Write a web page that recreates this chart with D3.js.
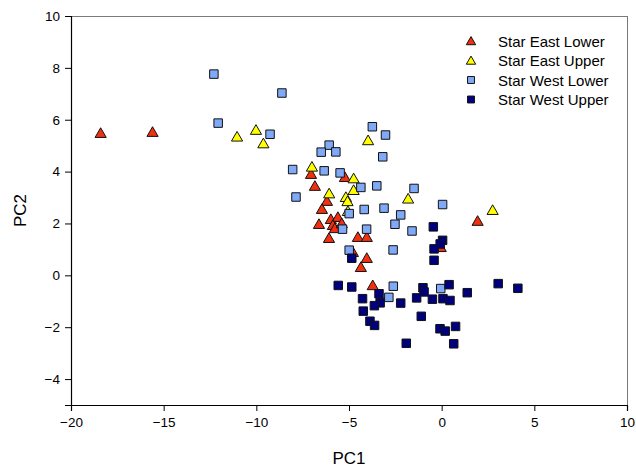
<!DOCTYPE html>
<html>
<head>
<meta charset="utf-8">
<script src="https://cdn.jsdelivr.net/npm/d3@7/dist/d3.min.js"></script>
<style>
  html, body { margin: 0; padding: 0; background: #fff; }
  svg { display: block; font-family: "Liberation Sans", Arial, sans-serif; }
</style>
</head>
<body>
<svg id="chart" width="636" height="469"></svg>
<script>
// PCA scores, [PC1, PC2] per sample
const starEastLower = [
  [-18.4, 5.48], [-15.6, 5.52], [-7.05, 3.90], [-5.22, 3.78], [-6.84, 3.44],
  [-6.19, 2.86], [-6.46, 2.55], [-6.62, 1.97], [-5.98, 2.16], [-5.60, 2.24],
  [-5.87, 1.93], [-5.76, 1.81], [-5.39, 2.00], [-6.08, 1.43], [-4.52, 1.47],
  [-4.04, 1.47], [-4.79, 0.89], [-4.04, 0.66], [-4.36, 0.31], [-3.72, -0.39],
  [1.94, 2.09], [-0.05, 1.08]
];
const starEastUpper = [
  [-11.04, 5.34], [-10.02, 5.60], [-9.62, 5.08], [-3.97, 5.20], [-7.00, 4.18],
  [-4.75, 3.73], [-6.07, 3.15], [-4.75, 3.28], [-5.17, 3.01], [-5.08, 2.85],
  [-5.06, 2.47], [-1.81, 2.95], [2.75, 2.51]
];
const starWestLower = [
  [-12.29, 7.76], [-12.06, 5.87], [-8.62, 7.03], [-9.26, 5.44], [-3.74, 5.73],
  [-3.03, 5.41], [-6.07, 5.02], [-6.50, 4.75], [-5.71, 4.76], [-3.18, 4.57],
  [-8.04, 4.08], [-6.34, 4.03], [-5.48, 3.95], [-4.36, 3.39], [-3.50, 3.45],
  [-1.49, 3.35], [0.05, 2.73], [-7.86, 3.02], [-4.18, 2.54], [-3.11, 2.59],
  [-4.99, 2.38], [-2.21, 2.33], [-2.52, 1.97], [-1.60, 1.71], [-4.05, 1.78],
  [-5.35, 1.78], [-2.62, 0.98], [-4.99, 0.97], [-2.61, -0.42], [-2.85, -0.85],
  [-0.05, -0.51]
];
const starWestUpper = [
  [-0.45, 1.87], [0.05, 1.35], [-0.08, 1.21], [-0.41, 1.02], [-0.41, 0.58],
  [-4.85, 0.66], [-5.58, -0.39], [-4.85, -0.45], [-3.38, -0.71], [-4.27, -0.90],
  [-3.32, -1.06], [-3.63, -1.17], [-2.21, -1.07], [-4.23, -1.38], [-3.87, -1.77],
  [-3.62, -1.93], [-1.01, -0.48], [-0.95, -0.64], [-1.35, -0.87], [-0.50, -0.92],
  [0.40, -0.36], [0.07, -0.90], [0.45, -0.97], [1.38, -0.67], [3.05, -0.32],
  [4.11, -0.50], [-1.10, -1.58], [-0.09, -2.06], [0.19, -2.15], [0.75, -1.97],
  [-1.91, -2.62], [0.65, -2.64]
];

const seriesNames = ["Star East Lower", "Star East Upper", "Star West Lower", "Star West Upper"];
const seriesData = [starEastLower, starEastUpper, starWestLower, starWestUpper];
const seriesShapes = ["triangle", "triangle", "square", "square"];
const seriesColors = ["#f0300e", "#ffff00", "#80aaf8", "#00007f"];

const xTicks = [-20, -15, -10, -5, 0, 5, 10];
const yTicks = [-4, -2, 0, 2, 4, 6, 8, 10];

const svg = d3.select("#chart");
const m = { left: 71, right: 627, top: 16, bottom: 405 };

const x = d3.scaleLinear().domain([-20, 10]).range([m.left, m.right]);
const y = d3.scaleLinear().domain([-5, 10]).range([m.bottom, m.top]);

// frame: grey top/right edges
svg.append("line").attr("x1", m.left).attr("x2", m.right).attr("y1", m.top + 0.5).attr("y2", m.top + 0.5)
  .attr("stroke", "#7a7a7a").attr("stroke-width", 1);
svg.append("line").attr("x1", m.right + 0.5).attr("x2", m.right + 0.5).attr("y1", m.top).attr("y2", m.bottom)
  .attr("stroke", "#7a7a7a").attr("stroke-width", 1);

// axes
const xAxis = d3.axisBottom(x).tickValues(xTicks).tickSize(6).tickPadding(6).tickFormat(d3.format("d"));
const yAxis = d3.axisLeft(y).tickValues(yTicks.concat([-5])).tickSize(6).tickPadding(5)
  .tickFormat(d => d === -5 ? "" : d3.format("d")(d));

const gx = svg.append("g").attr("transform", `translate(0,${m.bottom})`).call(xAxis);
const gy = svg.append("g").attr("transform", `translate(${m.left},0)`).call(yAxis);
[gx, gy].forEach(g => {
  g.select(".domain").attr("stroke", "#000").attr("stroke-width", 1.2);
  g.selectAll(".tick line").attr("stroke", "#000");
  g.selectAll(".tick text").attr("fill", "#000").style("font-size", "13.5px")
    .style("font-family", "'Liberation Sans', Arial, sans-serif");
});

// axis titles
svg.append("text").attr("x", (m.left + m.right) / 2).attr("y", 464).attr("text-anchor", "middle")
  .style("font-size", "17px").attr("fill", "#000").text("PC1");
svg.append("text").attr("transform", `translate(26,${(m.top + m.bottom) / 2}) rotate(-90)`)
  .attr("text-anchor", "middle").style("font-size", "17px").attr("fill", "#000").text("PC2");

const triSym = (s) => d3.symbol().type(d3.symbolTriangle).size(s)();
const sqSym = (s) => d3.symbol().type(d3.symbolSquare).size(s)();
const shapePath = (shape, size) => shape === "triangle" ? triSym(size) : sqSym(size);

// points
const plot = svg.append("g");
seriesData.forEach((data, i) => {
  plot.append("g").selectAll("path")
    .data(data)
    .join("path")
    .attr("d", shapePath(seriesShapes[i], seriesShapes[i] === "triangle" ? 54 : 72))
    .attr("transform", d => `translate(${x(d[0])},${y(d[1]) + (seriesShapes[i] === "triangle" ? 1 : 0)})`)
    .attr("fill", seriesColors[i])
    .attr("stroke", "#111")
    .attr("stroke-width", 1);
});

// legend
const legend = svg.append("g").attr("transform", "translate(471,41)");
seriesNames.forEach((name, i) => {
  const row = legend.append("g").attr("transform", `translate(0,${i * 19.5})`);
  row.append("path")
    .attr("d", shapePath(seriesShapes[i], seriesShapes[i] === "triangle" ? 38 : 48))
    .attr("transform", `translate(0,${seriesShapes[i] === "triangle" ? 1 : 0})`)
    .attr("fill", seriesColors[i]).attr("stroke", "#111").attr("stroke-width", 1);
  row.append("text").attr("x", 27).attr("y", 5.5).style("font-size", "15px").attr("fill", "#000").text(name);
});
</script>
</body>
</html>
